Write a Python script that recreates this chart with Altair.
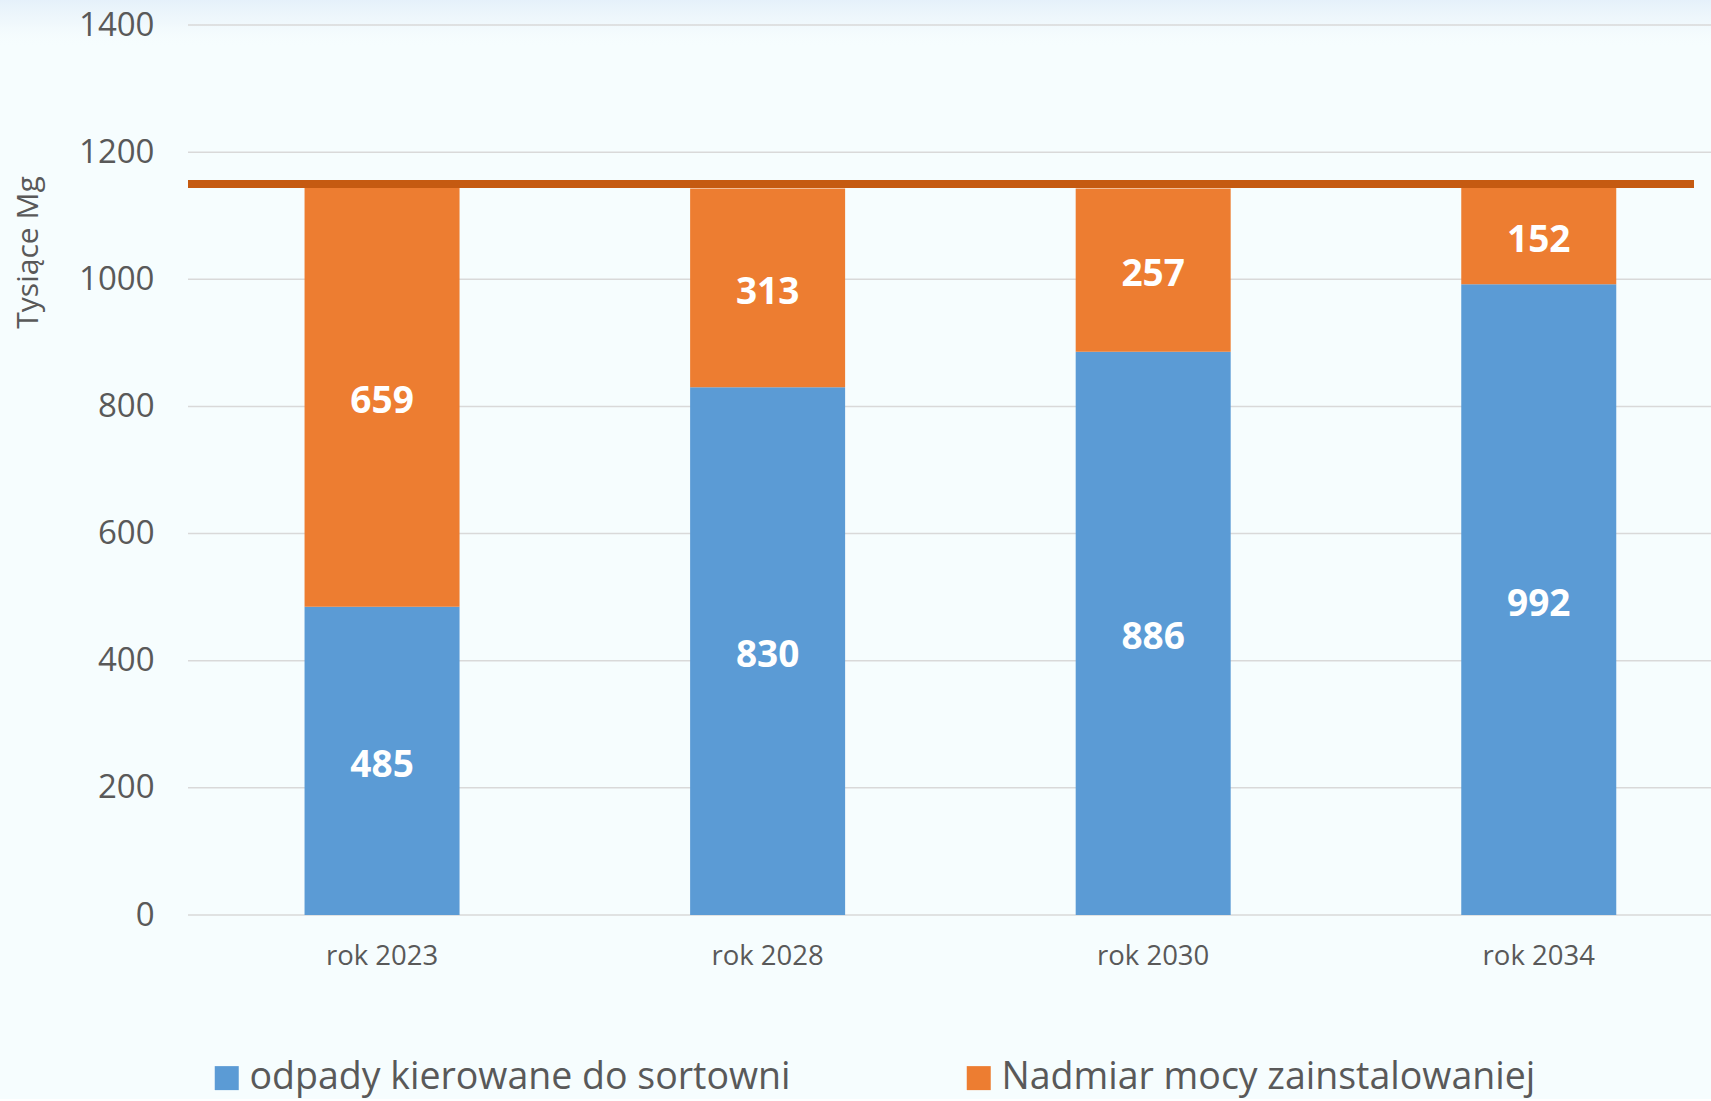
import altair as alt
import pandas as pd

years = ["rok 2023", "rok 2028", "rok 2030", "rok 2034"]
sorted_waste = [485, 830, 886, 992]
excess_capacity = [659, 313, 257, 152]
capacity_line = [1150]
series_names = ["odpady kierowane do sortowni", "Nadmiar mocy zainstalowaniej"]
series_colors = ["#5B9BD5", "#ED7D31"]
y_ticks = [0, 200, 400, 600, 800, 1000, 1200, 1400]

rows = []
for i, yr in enumerate(years):
    rows.append({"year": yr, "series": series_names[0], "value": sorted_waste[i], "order": 0})
    rows.append({"year": yr, "series": series_names[1], "value": excess_capacity[i], "order": 1})
df = pd.DataFrame(rows)

FONT = "Open Sans"
GREY = "#595959"
W, H = 1523, 890

x_scale = alt.Scale(paddingInner=0.598, paddingOuter=0.274, align=0.5516)
y_scale = alt.Scale(domain=[0, 1400])

x_axis = alt.Axis(title=None, domain=False, ticks=False, labelFont=FONT, labelFontSize=27.5,
                  labelColor=GREY, labelPadding=41, labelBaseline="middle", labelAngle=0)
y_axis = alt.Axis(title="Tysiące Mg", values=y_ticks, format="d", domain=False, ticks=False,
                  grid=False, zindex=1,
                  labelFont=FONT, labelFontSize=33,
                  labelColor=GREY, labelPadding=34, titleFont=FONT, titleFontSize=30,
                  titleFontWeight="normal", titleColor=GREY, titleX=-160, titleY=227,
                  titleAngle=270, titleAlign="center", titleBaseline="middle")

base = alt.Chart(df).transform_stack(
    stack="value", as_=["v0", "v1"], groupby=["year"],
    sort=[alt.SortField("order", order="ascending")]
).transform_calculate(mid="(datum.v0 + datum.v1) / 2")

bars = base.mark_bar().encode(
    x=alt.X("year:N", sort=years, scale=x_scale, axis=x_axis),
    y=alt.Y("v0:Q", scale=y_scale, axis=y_axis),
    y2="v1:Q",
    color=alt.Color("series:N", sort=series_names,
                    scale=alt.Scale(domain=series_names, range=series_colors),
                    legend=alt.Legend(orient="none", legendX=20, legendY=1034,
                                      direction="horizontal", title=None,
                                      symbolType="square", symbolSize=576,
                                      symbolStrokeWidth=0, symbolOpacity=1,
                                      labelFont=FONT, labelFontSize=37.5, labelColor=GREY,
                                      labelLimit=1000, labelOffset=4, columnPadding=169)),
)

labels = base.mark_text(color="white", font=FONT, fontSize=37, fontWeight="bold",
                        baseline="middle", align="center", dy=5).encode(
    x=alt.X("year:N", sort=years, scale=x_scale, axis=x_axis),
    y=alt.Y("mid:Q", scale=y_scale, axis=y_axis),
    text="value:Q",
)

grid_df = pd.DataFrame({"tick": y_ticks})
grid_rules = alt.Chart(grid_df).mark_rule(color="#D9D9D9", strokeWidth=1.5).encode(
    y=alt.Y("tick:Q", scale=y_scale, axis=y_axis),
)

cap_df = pd.DataFrame({"capacity": capacity_line})
cap_rule = alt.Chart(cap_df).mark_rule(color="#C55A11", strokeWidth=8).encode(
    y=alt.Y("capacity:Q", scale=y_scale, axis=y_axis),
    x=alt.value(0),
    x2=alt.value(1506),
)

grad_df = pd.DataFrame({"band": [0]})
top_grad = alt.Chart(grad_df).mark_rect(
    color=alt.Gradient(
        gradient="linear",
        stops=[alt.GradientStop(color="rgba(228,240,250,0.95)", offset=0),
               alt.GradientStop(color="rgba(236,245,251,0.6)", offset=0.5),
               alt.GradientStop(color="rgba(246,253,254,0)", offset=1)],
        x1=0, x2=0, y1=0, y2=1)
).encode(x=alt.value(-188), x2=alt.value(W), y=alt.value(-25), y2=alt.value(22))

chart = alt.layer(top_grad, grid_rules, bars, cap_rule, labels).properties(
    width=W, height=H,
    autosize=alt.AutoSizeParams(type="none"),
    padding={"left": 188, "top": 25, "right": 0, "bottom": 184},
    background="#F6FDFE",
).configure_view(stroke=None)

chart.save("out.html", embed_options={"renderer": "svg", "actions": False})
